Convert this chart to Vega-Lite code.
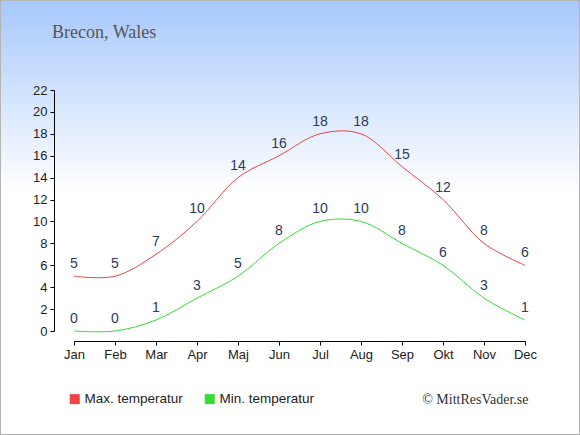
{
  "$schema": "https://vega.github.io/schema/vega-lite/v6.json",
  "width": 580,
  "height": 435,
  "autosize": {"type": "none"},
  "padding": 0,
  "background": "#ffffff",
  "config": {
    "view": {
      "fill": {
        "gradient": "linear",
        "x1": 0, "y1": 0, "x2": 0, "y2": 1,
        "stops": [
          {"offset": 0, "color": "#a6c8fc"},
          {"offset": 0.44, "color": "#ffffff"},
          {"offset": 1, "color": "#ffffff"}
        ]
      },
      "stroke": "#b4b4b4",
      "strokeWidth": 2
    }
  },
  "title": {
    "text": "Brecon, Wales",
    "orient": "top",
    "anchor": "start",
    "frame": "group",
    "offset": 0,
    "dx": 52,
    "dy": 56,
    "baseline": "alphabetic",
    "font": "Liberation Serif",
    "fontSize": 18,
    "fontWeight": "normal",
    "color": "#555555"
  },
  "data": {
    "values": [
      {"month": "Jan", "kind": "Max. temperatur", "temp": 5},
      {"month": "Feb", "kind": "Max. temperatur", "temp": 5},
      {"month": "Mar", "kind": "Max. temperatur", "temp": 7},
      {"month": "Apr", "kind": "Max. temperatur", "temp": 10},
      {"month": "Maj", "kind": "Max. temperatur", "temp": 14},
      {"month": "Jun", "kind": "Max. temperatur", "temp": 16},
      {"month": "Jul", "kind": "Max. temperatur", "temp": 18},
      {"month": "Aug", "kind": "Max. temperatur", "temp": 18},
      {"month": "Sep", "kind": "Max. temperatur", "temp": 15},
      {"month": "Okt", "kind": "Max. temperatur", "temp": 12},
      {"month": "Nov", "kind": "Max. temperatur", "temp": 8},
      {"month": "Dec", "kind": "Max. temperatur", "temp": 6},
      {"month": "Jan", "kind": "Min. temperatur", "temp": 0},
      {"month": "Feb", "kind": "Min. temperatur", "temp": 0},
      {"month": "Mar", "kind": "Min. temperatur", "temp": 1},
      {"month": "Apr", "kind": "Min. temperatur", "temp": 3},
      {"month": "Maj", "kind": "Min. temperatur", "temp": 5},
      {"month": "Jun", "kind": "Min. temperatur", "temp": 8},
      {"month": "Jul", "kind": "Min. temperatur", "temp": 10},
      {"month": "Aug", "kind": "Min. temperatur", "temp": 10},
      {"month": "Sep", "kind": "Min. temperatur", "temp": 8},
      {"month": "Okt", "kind": "Min. temperatur", "temp": 6},
      {"month": "Nov", "kind": "Min. temperatur", "temp": 3},
      {"month": "Dec", "kind": "Min. temperatur", "temp": 1}
    ]
  },
  "encoding": {
    "x": {
      "field": "month",
      "type": "ordinal",
      "sort": ["Jan", "Feb", "Mar", "Apr", "Maj", "Jun", "Jul", "Aug", "Sep", "Okt", "Nov", "Dec"],
      "scale": {"type": "point", "range": [74, 525], "padding": 0},
      "axis": {
        "orient": "bottom",
        "offset": -94,
        "grid": false,
        "labelAngle": 0,
        "domainColor": "#000000",
        "tickColor": "#000000",
        "tickSize": 4,
        "labelPadding": 3,
        "labelFont": "Liberation Sans",
        "labelFontSize": 13,
        "labelColor": "#222222",
        "title": "© MittResVader.se",
        "titleX": 528,
        "titleY": 62,
        "titleAlign": "right",
        "titleAnchor": null,
        "titleBaseline": "alphabetic",
        "titleFont": "Liberation Serif",
        "titleFontSize": 14,
        "titleFontWeight": "normal",
        "titleColor": "#333333"
      }
    },
    "y": {
      "field": "temp",
      "type": "quantitative",
      "scale": {"domain": [0, 22], "range": [331, 90], "nice": false, "zero": false},
      "axis": {
        "orient": "left",
        "offset": -54,
        "values": [0, 2, 4, 6, 8, 10, 12, 14, 16, 18, 20, 22],
        "grid": false,
        "title": null,
        "domainColor": "#000000",
        "tickColor": "#000000",
        "tickSize": 4,
        "labelPadding": 3,
        "labelFont": "Liberation Sans",
        "labelFontSize": 13,
        "labelColor": "#222222"
      }
    },
    "color": {
      "field": "kind",
      "type": "nominal",
      "scale": {
        "domain": ["Max. temperatur", "Min. temperatur"],
        "range": ["#ee4444", "#33dd33"]
      },
      "legend": {
        "title": null,
        "orient": "none",
        "legendX": 68,
        "legendY": 392,
        "direction": "horizontal",
        "padding": 0,
        "symbolType": "square",
        "symbolSize": 100,
        "symbolStrokeWidth": 0,
        "labelFont": "Liberation Sans",
        "labelFontSize": 13.5,
        "labelColor": "#222222",
        "labelOffset": 3,
        "columnPadding": 20,
        "encode": {
          "symbols": {
            "update": {
              "fill": {"scale": "color", "field": "value"},
              "fillOpacity": {"value": 1}
            }
          }
        }
      }
    }
  },
  "layer": [
    {
      "mark": {"type": "line", "interpolate": "catmull-rom", "strokeWidth": 1}
    },
    {
      "mark": {
        "type": "text",
        "dy": -8,
        "baseline": "alphabetic",
        "font": "Liberation Sans",
        "fontSize": 14
      },
      "encoding": {
        "text": {"field": "temp", "type": "quantitative"},
        "color": {"value": "#2a3b5c"}
      }
    }
  ]
}
